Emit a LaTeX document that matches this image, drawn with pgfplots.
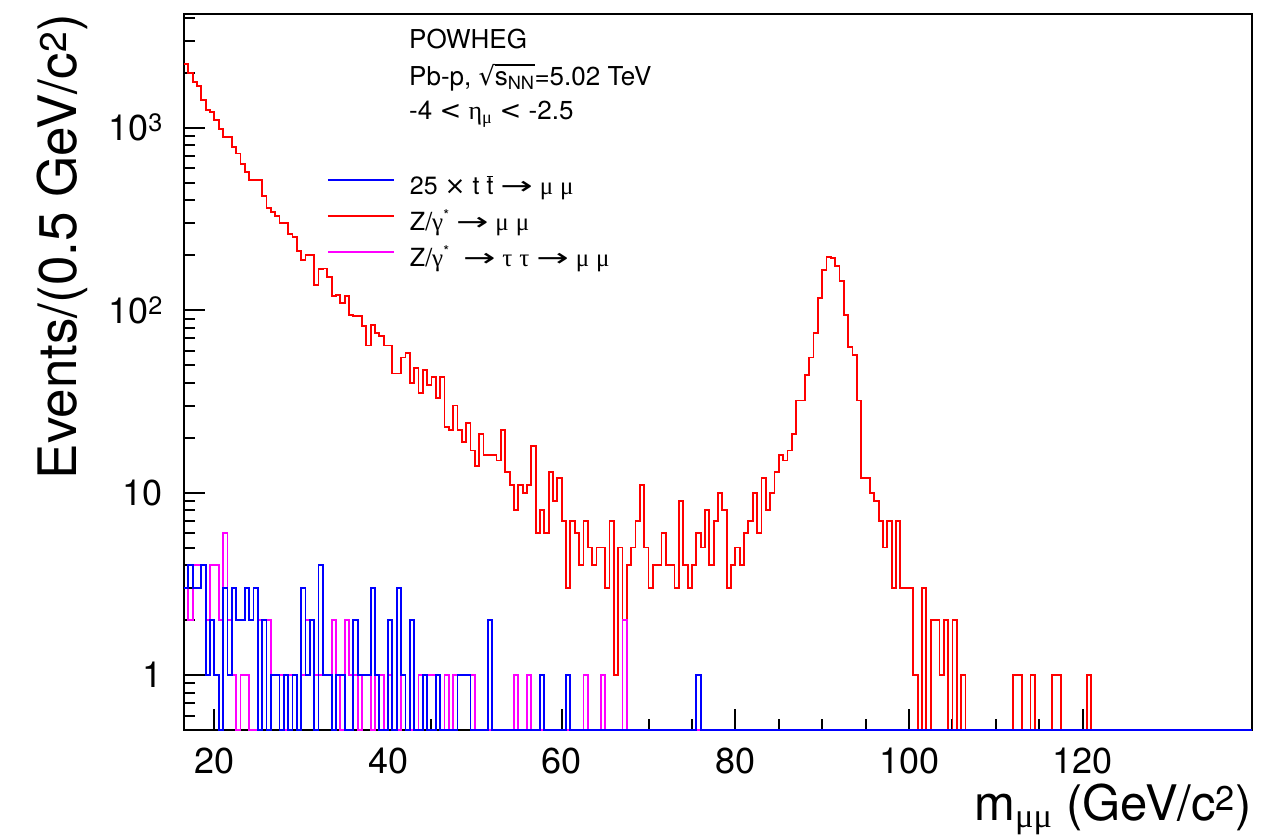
\documentclass[border=0pt]{standalone}
\usepackage{pgfplots}
\pgfplotsset{compat=1.18}
\usepackage{pgfplotstable}
\usepackage{graphicx}
\usepackage{fontspec}
\setmainfont{TeX Gyre Heros}
\newfontfamily\sym{Liberation Serif}
\newfontfamily\arr{DejaVu Sans}
\newcommand{\ar}{\scalebox{1.55}[1.0]{\arr →}}
\newsavebox{\snnbox}
\newcommand{\sqrtsnn}{\sbox{\snnbox}{s\textsubscript{NN}}{\arr √}\kern-0.4pt\rlap{\rule[19.5pt]{\wd\snnbox}{1.3pt}}\usebox{\snnbox}}
\definecolor{rmag}{RGB}{255,0,255}
\definecolor{rblue}{RGB}{0,0,255}
\definecolor{rred}{RGB}{255,0,0}

\pgfplotstableread{
lo red mag blue
16.5 2236 3 3
17.0 2004 2 4
17.5 1788 4 3
18.0 1701 4 3
18.5 1419 4 4
19.0 1251 2 1
19.5 1225 4 2
20.0 1102 4 1
20.5 984 2 0
21.0 885 6 3
21.5 885 2 1
22.0 787 1 3
22.5 723 0 2
23.0 632 1 2
23.5 574 1 3
24.0 517 0 2
24.5 517 0 3
25.0 517 2 0
25.5 424 2 2
26.0 364 2 0
26.5 346 1 1
27.0 329 1 1
27.5 299 1 0
28.0 299 0 1
28.5 261 1 0
29.0 253 1 1
29.5 211 0 0
30.0 188 1 3
30.5 200 2 1
31.0 200 2 2
31.5 137 1 0
32.0 168 1 4
32.5 169 1 1
33.0 152 1 1
33.5 119 2 0
34.0 121 1 1
34.5 110 0 1
35.0 120 2 0
35.5 94 1 0
36.0 93 1 2
36.5 93 0 1
37.0 82 1 1
37.5 64 1 1
38.0 83 0 3
38.5 75 1 1
39.0 72 1 0
39.5 64 0 0
40.0 64 1 2
40.5 45 0 0
41.0 45 0 3
41.5 55 1 1
42.0 58 0 0
42.5 40 0 2
43.0 48 0 0
43.5 35 1 0
44.0 47 1 1
44.5 39 1 0
45.0 43 1 0
45.5 33 1 1
46.0 43 0 0
46.5 23 1 0
47.0 22 0 0
47.5 30 1 0
48.0 22 1 1
48.5 19 1 1
49.0 24 1 1
49.5 17 1 0
50.0 14 0 0
50.5 21 0 0
51.0 16 0 0
51.5 16 0 2
52.0 16 0 0
52.5 15 0 0
53.0 22 0 0
53.5 13 0 0
54.0 11 0 0
54.5 8 1 0
55.0 11 0 0
55.5 10 0 0
56.0 11 1 0
56.5 18 0 0
57.0 6 0 0
57.5 8 0 1
58.0 6 0 0
58.5 13 0 0
59.0 9 0 0
59.5 12 0 0
60.0 7 0 0
60.5 3 0 1
61.0 7 0 0
61.5 6 0 0
62.0 4 0 0
62.5 7 1 0
63.0 5 0 0
63.5 4 0 0
64.0 5 0 0
64.5 5 1 0
65.0 3 0 0
65.5 7 0 0
66.0 1 0 0
66.5 5 0 0
67.0 2 2 0
67.5 4 0 0
68.0 5 0 0
68.5 7 0 0
69.0 11 0 0
69.5 5 0 0
70.0 3 0 0
70.5 4 0 0
71.0 4 0 0
71.5 6 0 0
72.0 4 0 0
72.5 4 0 0
73.0 3 0 0
73.5 9 0 0
74.0 4 0 0
74.5 3 0 0
75.0 4 0 0
75.5 6 0 1
76.0 5 0 0
76.5 8 0 0
77.0 4 0 0
77.5 7 0 0
78.0 10 0 0
78.5 8 0 0
79.0 3 0 0
79.5 4 0 0
80.0 5 0 0
80.5 4 0 0
81.0 6 0 0
81.5 7 0 0
82.0 10 0 0
82.5 6 0 0
83.0 12 0 0
83.5 8 0 0
84.0 10 0 0
84.5 13 0 0
85.0 16 0 0
85.5 15 0 0
86.0 17 0 0
86.5 21 0 0
87.0 32 0 0
87.5 32 0 0
88.0 44 0 0
88.5 55 0 0
89.0 75 0 0
89.5 117 0 0
90.0 166 0 0
90.5 196 0 0
91.0 194 0 0
91.5 174 0 0
92.0 145 0 0
92.5 94 0 0
93.0 63 0 0
93.5 57 0 0
94.0 32 0 0
94.5 12 0 0
95.0 12 0 0
95.5 10 0 0
96.0 9 0 0
96.5 7 0 0
97.0 5 0 0
97.5 7 0 0
98.0 3 0 0
98.5 7 0 0
99.0 3 0 0
99.5 3 0 0
100.0 3 0 0
100.5 1 0 0
101.0 0 0 0
101.5 3 0 0
102.0 0 0 0
102.5 2 0 0
103.0 2 0 0
103.5 1 0 0
104.0 2 0 0
104.5 0 0 0
105.0 2 0 0
105.5 0 0 0
106.0 1 0 0
106.5 0 0 0
112.0 1 0 0
112.5 1 0 0
113.0 0 0 0
114.0 1 0 0
114.5 0 0 0
116.5 1 0 0
117.0 1 0 0
117.5 0 0 0
120.5 1 0 0
121.0 0 0 0
139.5 0 0 0
}\histdata

\begin{document}
\begin{tikzpicture}
\useasboundingbox (-184pt,-106pt) rectangle (1098pt,730pt);
\begin{axis}[
  at={(0pt,0pt)}, anchor=south west,
  scale only axis, width=1068pt, height=716pt,
  xmin=16.5, xmax=139.5,
  ymode=log, ymin=0.5, ymax=4200,
  clip=false,
  axis line style={black, line width=2pt},
  tick pos=left, tick align=inside,
  major tick length=21pt, minor tick length=11pt,
  tick style={black, line width=2pt},
  xtick={20,40,60,80,100,120},
  xticklabels={20,40,60,80,100,120},
  minor x tick num=3,
  ytick={1,10,100,1000},
  yticklabels={1,10,10\textsuperscript{2},10\textsuperscript{3}},
  minor ytick={0.6,0.7,0.8,0.9,2,3,4,5,6,7,8,9,20,30,40,50,60,70,80,90,200,300,400,500,600,700,800,900,2000,3000,4000},
  /pgf/number format/assume math mode=true,
  tick label style={font=\fontsize{36}{43}\selectfont, inner sep=0pt},
  xticklabel style={anchor=north, yshift=-18pt},
  yticklabel style={anchor=east, xshift=-21pt},
  xlabel={m\textsubscript{\sym μμ} (GeV/c\textsuperscript{2})},
  xlabel style={at={(axis description cs:1,-0.1257)}, anchor=base east, inner sep=0pt, font=\fontsize{49}{59}\selectfont},
  ylabel={Events/(0.5 GeV/c\textsuperscript{2})},
  ylabel style={at={(axis description cs:-0.1011,1)}, anchor=base east, rotate=0, inner sep=0pt, font=\fontsize{53}{63}\selectfont},
  legend cell align=left,
  legend image code/.code={\draw[#1] (0pt,7pt) -- (66pt,7pt);},
  legend style={at={(axis description cs:0.1339,0.7765)}, anchor=north west,
    draw=none, fill=none, inner sep=0pt, outer sep=0pt, row sep=10pt,
    font=\fontsize{25}{30}\selectfont,
    nodes={inner sep=0pt, text height=20pt, text depth=6pt},
    /tikz/every odd column/.append style={column sep=15pt}},
]
\addlegendimage{rblue, line width=2pt}
\addlegendentry{25 {\arr ×} t $\overline{\mbox{t}}$ \ar{} {\sym μ} {\sym μ}}
\addlegendimage{rred, line width=2pt}
\addlegendentry{Z/{\sym γ}\raisebox{10pt}{\fontsize{15}{15}\selectfont *} \ar{} {\sym μ} {\sym μ}}
\addlegendimage{rmag, line width=2pt}
\addlegendentry{Z/{\sym γ}\raisebox{10pt}{\fontsize{15}{15}\selectfont *}\ \ \ar{} {\sym τ} {\sym τ} \ar{} {\sym μ} {\sym μ}}

\addplot[forget plot, rred, line width=1.8pt, const plot mark left]
  table[x=lo, y expr={max(\thisrow{red},0.5)}] {\histdata};
\addplot[forget plot, rmag, line width=1.8pt, const plot mark left]
  table[x=lo, y expr={max(\thisrow{mag},0.5)}] {\histdata};
\addplot[forget plot, rblue, line width=1.8pt, const plot mark left]
  table[x=lo, y expr={max(\thisrow{blue},0.5)}] {\histdata};

\node[anchor=base west, inner sep=0pt, font=\fontsize{26}{31}\selectfont] at (axis description cs:0.2107,0.9521) {POWHEG};
\node[anchor=base west, inner sep=0pt, font=\fontsize{26}{31}\selectfont] at (axis description cs:0.2107,0.9008) {Pb-p, \sqrtsnn=5.02 TeV};
\node[anchor=base west, inner sep=0pt, font=\fontsize{26}{31}\selectfont] at (axis description cs:0.2107,0.852) {-4 {\arr <} {\sym η}\textsubscript{\sym μ} {\arr <} -2.5};
\end{axis}
\end{tikzpicture}
\end{document}
